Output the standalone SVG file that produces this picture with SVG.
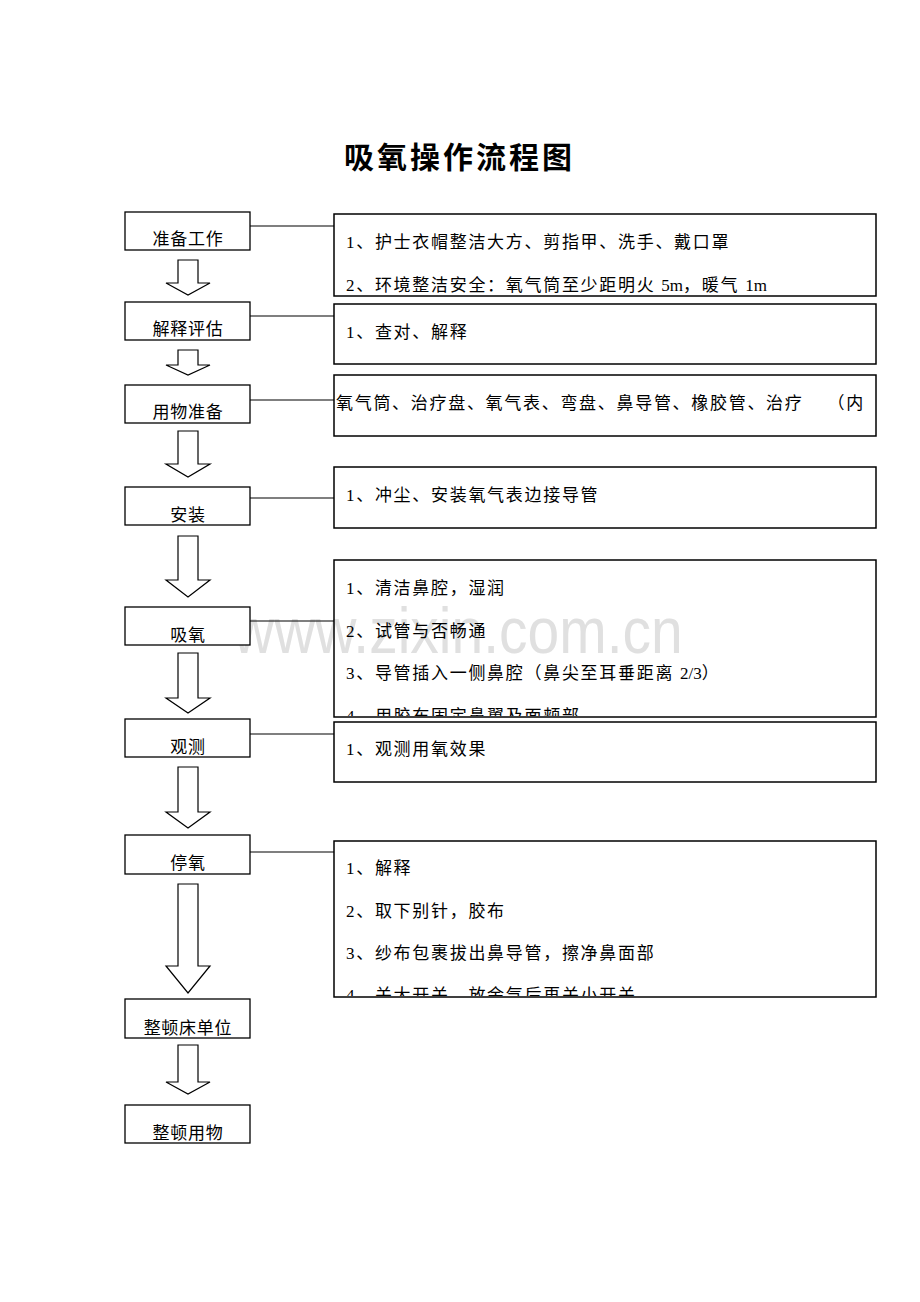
<svg xmlns="http://www.w3.org/2000/svg" width="920" height="1302" viewBox="0 0 920 1302">
<style>
.bg{fill:#fff}
.box{fill:#fff;stroke:#000;stroke-width:1.3}
.rbox{fill:none;stroke:#000;stroke-width:1.5}
.arrow{fill:#fff;stroke:#000;stroke-width:1.2;stroke-linejoin:miter}
.conn{stroke:#000;stroke-width:1.2;fill:none}
.lbl{font-family:'Liberation Serif','Noto Sans CJK SC',serif;font-size:17px;letter-spacing:0.75px;text-anchor:middle;fill:#000}
.txt{font-family:'Liberation Serif','Noto Sans CJK SC',serif;font-size:17px;letter-spacing:1.7px;fill:#000}
.num{letter-spacing:0}
.title{font-family:'Noto Sans CJK SC',sans-serif;font-size:30px;font-weight:bold;letter-spacing:3px;fill:#000}
.wm{font-family:'Liberation Sans',Arial,sans-serif;font-size:57px;fill:#e0e0e0}
</style>
<defs>
<clipPath id="c1"><rect x="335" y="215" width="540" height="80"/></clipPath>
<clipPath id="c2"><rect x="335" y="305" width="540" height="58"/></clipPath>
<clipPath id="c3"><rect x="335" y="376" width="540" height="59"/></clipPath>
<clipPath id="c4"><rect x="335" y="468" width="540" height="59"/></clipPath>
<clipPath id="c5"><rect x="335" y="561" width="540" height="155"/></clipPath>
<clipPath id="c6"><rect x="335" y="723" width="540" height="58"/></clipPath>
<clipPath id="c7"><rect x="335" y="842" width="540" height="154"/></clipPath>
</defs>
<rect class="bg" x="0" y="0" width="920" height="1302"/>
<text class="title" x="344" y="168">吸氧操作流程图</text>

<g id="watermark">
<text class="wm" transform="scale(1,1.14)" x="233" y="573">www.zixin.com.cn</text>
</g>

<g id="connectors">
<line class="conn" x1="250" y1="226" x2="334" y2="226"/>
<line class="conn" x1="250" y1="316" x2="334" y2="316"/>
<line class="conn" x1="250" y1="400" x2="334" y2="400"/>
<line class="conn" x1="250" y1="498" x2="334" y2="498"/>
<line class="conn" x1="250" y1="621" x2="334" y2="621"/>
<line class="conn" x1="250" y1="734" x2="334" y2="734"/>
<line class="conn" x1="250" y1="852" x2="334" y2="852"/>
<polygon class="arrow" points="178,260 198,260 198,283 210,283 188,295 166,283 178,283"/>
<polygon class="arrow" points="178,350 198,350 198,365 210,365 188,375 166,365 178,365"/>
<polygon class="arrow" points="178,431 198,431 198,464 210,464 188,477 166,464 178,464"/>
<polygon class="arrow" points="178,536 198,536 198,580 210,580 188,597 166,580 178,580"/>
<polygon class="arrow" points="178,653 198,653 198,698 210,698 188,713 166,698 178,698"/>
<polygon class="arrow" points="178,767 198,767 198,812 210,812 188,828 166,812 178,812"/>
<polygon class="arrow" points="178,884 198,884 198,966 210,966 188,993 166,966 178,966"/>
<polygon class="arrow" points="178,1045 198,1045 198,1082 210,1082 188,1094 166,1082 178,1082"/>
</g>

<g id="n1"><rect class="box" x="125" y="212" width="125" height="38"/><text class="lbl" x="188" y="245">准备工作</text></g>
<g id="n2"><rect class="box" x="125" y="302" width="125" height="38"/><text class="lbl" x="188" y="335">解释评估</text></g>
<g id="n3"><rect class="box" x="125" y="385" width="125" height="38"/><text class="lbl" x="188" y="418">用物准备</text></g>
<g id="n4"><rect class="box" x="125" y="487" width="125" height="38"/><text class="lbl" x="188" y="521">安装</text></g>
<g id="n5"><rect class="box" x="125" y="607" width="125" height="38"/><text class="lbl" x="188" y="641">吸氧</text></g>
<g id="n6"><rect class="box" x="125" y="719" width="125" height="38"/><text class="lbl" x="188" y="753">观测</text></g>
<g id="n7"><rect class="box" x="125" y="835" width="125" height="39"/><text class="lbl" x="188" y="869">停氧</text></g>
<g id="n8"><rect class="box" x="125" y="999" width="125" height="39"/><text class="lbl" x="188" y="1034">整顿床单位</text></g>
<g id="n9"><rect class="box" x="125" y="1105" width="125" height="38"/><text class="lbl" x="188" y="1139">整顿用物</text></g>

<g id="r1">
<g clip-path="url(#c1)">
<text class="txt" x="346" y="248">1、护士衣帽整洁大方、剪指甲、洗手、戴口罩</text>
<text class="txt" x="346" y="291">2、环境整洁安全：氧气筒至少距明火 <tspan class="num">5m</tspan>，暖气 <tspan class="num">1m</tspan></text>
</g>
<rect class="rbox" x="334" y="214" width="542" height="82"/>
</g>
<g id="r2">
<g clip-path="url(#c2)"><text class="txt" x="346" y="338">1、查对、解释</text></g>
<rect class="rbox" x="334" y="304" width="542" height="60"/>
</g>
<g id="r3">
<g clip-path="url(#c3)"><text class="txt" x="336" y="409">氧气筒、治疗盘、氧气表、弯盘、鼻导管、橡胶管、治疗<tspan dx="24">（内</tspan></text></g>
<rect class="rbox" x="334" y="375" width="542" height="61"/>
</g>
<g id="r4">
<g clip-path="url(#c4)"><text class="txt" x="346" y="501">1、冲尘、安装氧气表边接导管</text></g>
<rect class="rbox" x="334" y="467" width="542" height="61"/>
</g>
<g id="r5">
<g clip-path="url(#c5)">
<text class="txt" x="346" y="594">1、清洁鼻腔，湿润</text>
<text class="txt" x="346" y="637">2、试管与否畅通</text>
<text class="txt" x="346" y="679">3、导管插入一侧鼻腔（鼻尖至耳垂距离 <tspan class="num">2/3</tspan>）</text>
<text class="txt" x="346" y="722">4、用胶布固定鼻翼及面颊部</text>
</g>
<rect class="rbox" x="334" y="560" width="542" height="157"/>
</g>
<g id="r6">
<g clip-path="url(#c6)"><text class="txt" x="346" y="755">1、观测用氧效果</text></g>
<rect class="rbox" x="334" y="722" width="542" height="60"/>
</g>
<g id="r7">
<g clip-path="url(#c7)">
<text class="txt" x="346" y="874">1、解释</text>
<text class="txt" x="346" y="917">2、取下别针，胶布</text>
<text class="txt" x="346" y="959">3、纱布包裹拔出鼻导管，擦净鼻面部</text>
<text class="txt" x="346" y="1001">4、关大开关，放余气后再关小开关</text>
</g>
<rect class="rbox" x="334" y="841" width="542" height="156"/>
</g>
</svg>
